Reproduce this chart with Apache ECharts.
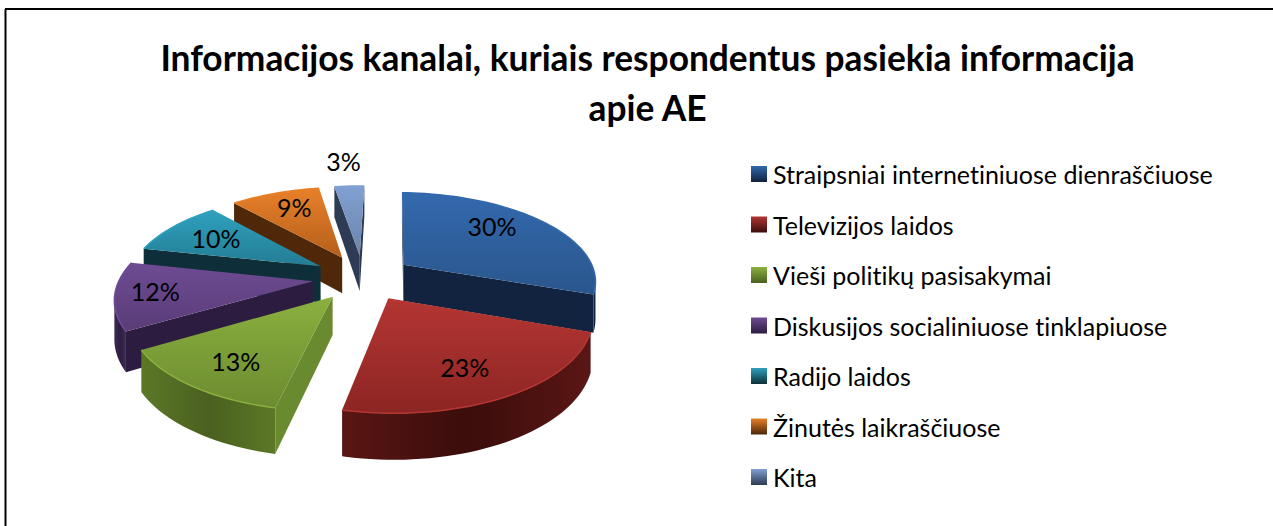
<!DOCTYPE html>
<html>
<head>
<meta charset="utf-8">
<style>
  html, body { margin: 0; padding: 0; background: #fff; }
  #chart { width: 1273px; height: 526px; font-variant-ligatures: none; }
  #chart text { font-variant-ligatures: none; }
</style>
</head>
<body>
<div id="chart"></div>
<script src="https://cdn.jsdelivr.net/npm/echarts@6/dist/echarts.min.js"></script>
<script>
const chartTitle = 'Informacijos kanalai, kuriais respondentus pasiekia informacija\napie AE'
const categories = [
  'Straipsniai internetiniuose dienraščiuose',
  'Televizijos laidos',
  'Vieši politikų pasisakymai',
  'Diskusijos socialiniuose tinklapiuose',
  'Radijo laidos',
  'Žinutės laikraščiuose',
  'Kita'
]
const shares = [30, 23, 13, 12, 10, 9, 3]

// top light, top dark, wall light, wall dark, cut face
const sliceColors = [
  ['#3369ae', '#2a568c', '#1a3356', '#10223c', '#11233f'],
  ['#b43633', '#8c2523', '#5a1614', '#3a0d0b', '#3a0d0b'],
  ['#8bb03e', '#6c8b30', '#5c7826', '#4a6020', '#6a8a30'],
  ['#6e4b93', '#5a3c78', '#3d2a58', '#2c1d40', '#2c1d40'],
  ['#2fa1be', '#237c94', '#12404e', '#0e2f39', '#0e2f39'],
  ['#e8802a', '#b55f1b', '#6a3510', '#4a2608', '#4f2809'],
  ['#81a0d3', '#6b84a8', '#3a4c68', '#2b3a50', '#2d3c54']
]
const drawOrder = [6, 5, 4, 0, 3, 2, 1]
// hand placed percent labels, same as in the original
const labelNudge = [[-11, -8], [-3, 4], [-3, 5], [-20, -1], [1, 0], [1, -4], [-3, -6]]

// fake 3d camera, ground plane projected with a bit of perspective
const cx = 363
const cy = 277.5
const radiusX = 193
const radiusY = 88
const depth = 37
const camera = 6
const explode = 0.26
const firstAngle = 1.5

const total = shares.reduce((a, b) => a + b, 0)
const toRad = (d) => d * Math.PI / 180

const project = (x, y, z) => {
  const k = camera / (camera - y)
  return [cx + radiusX * k * x, cy + k * (radiusY * y + depth * z)]
}

const vGrad = (a, b) => new echarts.graphic.LinearGradient(0, 0, 0, 1, [
  { offset: 0, color: a }, { offset: 1, color: b }
])
const hGrad = (a, b) => new echarts.graphic.LinearGradient(0, 0, 1, 0, [
  { offset: 0, color: a }, { offset: 0.5, color: b }, { offset: 1, color: a }
])

const makeSlice = (idx, value) => {
  const before = shares.slice(0, idx).reduce((a, b) => a + b, 0)
  const start = firstAngle + before / total * 360
  const end = start + value / total * 360
  const mid = toRad((start + end) / 2)
  const ox = explode * Math.sin(mid)
  const oy = -explode * Math.cos(mid)
  const colors = sliceColors[idx]
  const onRim = (deg, r) => [ox + r * Math.sin(toRad(deg)), oy - r * Math.cos(toRad(deg))]

  const rim = []
  for (let d = start; d < end; d += 2) rim.push(d)
  rim.push(end)

  const children = []
  const polygon = (points, fill) => children.push({
    type: 'polygon',
    shape: { points },
    style: { fill, stroke: null }
  })

  // outer wall, only the part turned to the camera
  const wall = rim.filter((d) => {
    const p = onRim(d, 1)
    const a = toRad(d)
    return Math.sin(a) * -p[0] - Math.cos(a) * (camera - p[1]) > 0
  })
  if (wall.length > 1) {
    const top = wall.map((d) => project(...onRim(d, 1), 0))
    const bottom = wall.slice().reverse().map((d) => project(...onRim(d, 1), 1))
    polygon(top.concat(bottom), hGrad(colors[2], colors[3]))
  }

  // cut faces
  const faces = [[start, -1], [end, 1]]
  faces.forEach(([deg, sign]) => {
    const a = toRad(deg)
    const nx = sign * Math.cos(a)
    const ny = sign * Math.sin(a)
    if (nx * -ox + ny * (camera - oy) > 0) {
      const p = onRim(deg, 1)
      polygon([
        project(ox, oy, 0), project(p[0], p[1], 0),
        project(p[0], p[1], 1), project(ox, oy, 1)
      ], colors[4])
    }
  })

  // top
  const arc = rim.map((d) => project(...onRim(d, 1), 0))
  polygon([project(ox, oy, 0)].concat(arc), vGrad(colors[0], colors[1]))
  // the little bevel highlight along the rim
  children.push({
    type: 'polyline',
    shape: { points: arc },
    style: { fill: null, stroke: colors[0], lineWidth: 1.5 }
  })

  // percent label
  const labelR = value < 5 ? 1.33 : 0.7
  const lp = onRim((start + end) / 2, labelR)
  const pos = project(lp[0], lp[1], 0)
  children.push({
    type: 'text',
    z2: 10,
    style: {
      x: pos[0] + labelNudge[idx][0],
      y: pos[1] + labelNudge[idx][1],
      text: Math.round(value / total * 100) + '%',
      font: '25px Lato',
      fill: '#000',
      align: 'center',
      verticalAlign: 'middle'
    }
  })
  return { type: 'group', children }
}

const series = categories.map((name, idx) => ({
  type: 'custom',
  name,
  coordinateSystem: 'none',
  z: 2 + drawOrder.indexOf(idx),
  silent: true,
  data: [[shares[idx]]],
  itemStyle: { color: vGrad(sliceColors[idx][0], sliceColors[idx][3]) },
  renderItem: (params, api) => makeSlice(idx, api.value(0))
}))

const chart = echarts.init(document.getElementById('chart'), null, { renderer: 'svg' })
chart.setOption({
  animation: false,
  backgroundColor: '#fff',
  title: {
    text: chartTitle,
    left: 647.5,
    top: 32,
    padding: 0,
    textAlign: 'center',
    textStyle: { fontFamily: 'Lato', fontWeight: 'bold', fontSize: 35.3, lineHeight: 50, color: '#000' }
  },
  legend: {
    orient: 'vertical',
    left: 751,
    top: 161,
    icon: 'rect',
    itemWidth: 16,
    itemHeight: 16,
    itemGap: 24.5,
    padding: 0,
    selectedMode: false,
    textStyle: { fontFamily: 'Lato', fontSize: 25, color: '#000', padding: [0, 0, 0, 1], lineHeight: 26 }
  },
  graphic: [
    { type: 'line', shape: { x1: 5.5, y1: 9, x2: 5.5, y2: 526 }, style: { stroke: '#000', lineWidth: 2 } },
    { type: 'line', shape: { x1: 5, y1: 9, x2: 1273, y2: 9 }, style: { stroke: '#000', lineWidth: 2 } }
  ],
  series
})
</script>
</body>
</html>
